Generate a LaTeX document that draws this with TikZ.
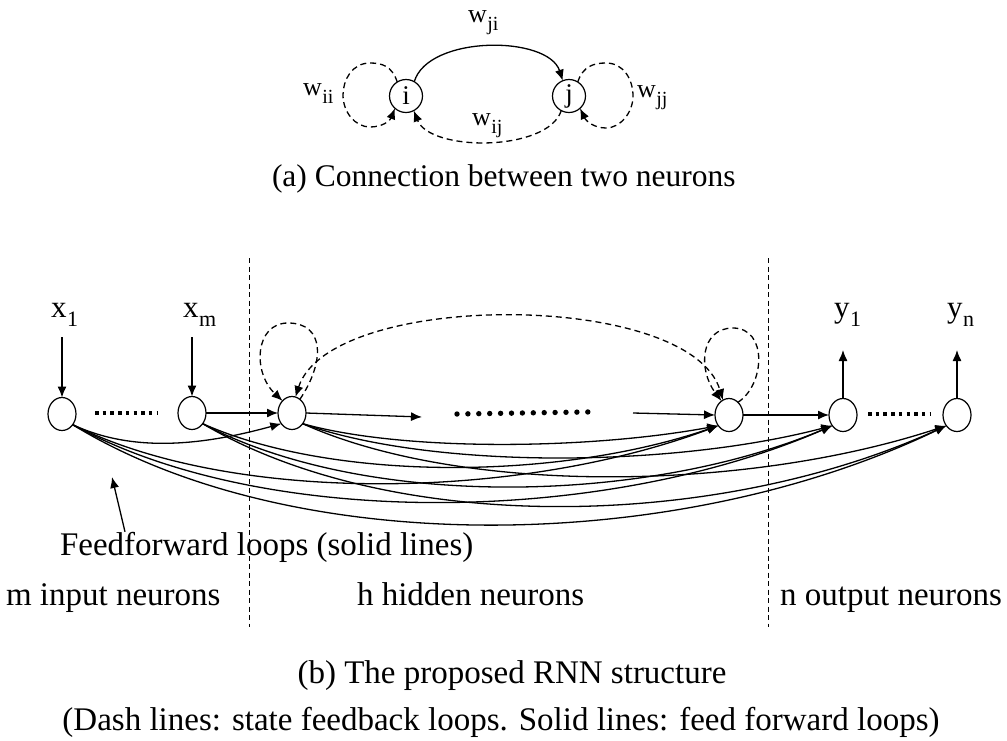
\documentclass[tikz,border=0pt]{standalone}
\usepackage{fontspec}
\setmainfont{Liberation Serif}
\usetikzlibrary{arrows.meta,shapes.geometric}

% label with a lowered subscript in plain text
\newcommand{\sublbl}[4]{#1\kern0.5pt\raisebox{-#3pt}{\fontsize{#4}{#4}\selectfont #2}}

\begin{document}
\begin{tikzpicture}[x=1pt,y=-1pt,
  every node/.style={inner sep=0pt, outer sep=0pt},
  unit/.style={draw, circle, line width=1.2pt, minimum size=33pt, font=\fontsize{27}{27}\selectfont},
  neuron/.style={draw, ellipse, line width=1.2pt, minimum width=28pt, minimum height=33pt},
  tip/.style={-{Latex[length=11pt,width=9pt]}},
  ff/.style={tip, line width=1.3pt},
  fb/.style={tip, line width=1.3pt, dash pattern=on 6pt off 4pt},
  sep/.style={line width=0.9pt, dash pattern=on 5pt off 3.5pt},
  wlabel/.style={anchor=base west, font=\fontsize{26}{26}\selectfont},
  iolabel/.style={anchor=base west, font=\fontsize{31}{31}\selectfont},
  caption/.style={font=\fontsize{31.5}{31.5}\selectfont},
  bigcaption/.style={font=\fontsize{33}{33}\selectfont},
  squaredots/.style={line width=3.5pt, dash pattern=on 3.5pt off 4.2pt}
]
\useasboundingbox (0,0) rectangle (1007,740);

% ---------- (a) two neurons ----------
\node[unit] (i) at (406,96) {i};
\node[unit] (j) at (569,96) {j};

\draw[ff] (i.60) .. controls (428,35) and (548,35) .. (j.112);
\draw[fb] (j.-118) .. controls (548,152) and (430,152) .. (i.-62);
\draw[fb] (i.122) .. controls (392,66) and (382,63) .. (370,63)
  .. controls (352,63) and (343,80) .. (343,95)
  .. controls (343,112) and (355,127) .. (370,127)
  .. controls (382,127) and (390,121) .. (i.-132);
\draw[fb] (j.58) .. controls (583,66) and (594,63) .. (606,63)
  .. controls (624,63) and (633,80) .. (633,96)
  .. controls (633,113) and (620,128) .. (606,128)
  .. controls (594,128) and (586,121) .. (j.-48);

\node[wlabel] (wji) at (468,22) {\sublbl{w}{ji}{8}{20}};
\node[wlabel] (wii) at (303,95) {\sublbl{w}{ii}{8}{20}};
\node[wlabel] (wjj) at (637,97) {\sublbl{w}{jj}{8}{20}};
\node[wlabel] (wij) at (472,125) {\sublbl{w}{ij}{8}{20}};

\node[caption, anchor=base west] (capa) at (272,186) {(a) Connection between two neurons};

% ---------- (b) network ----------
\draw[sep] (249,258) -- (249,627);
\draw[sep] (768,258) -- (768,627);

\node[neuron] (x1) at (62,414) {};
\node[neuron] (xm) at (192,413) {};
\node[neuron] (h1) at (292,413) {};
\node[neuron] (hL) at (729,415) {};
\node[neuron] (y1) at (843,415) {};
\node[neuron] (yn) at (957,415) {};

\node[iolabel] (lx1) at (51,317) {\sublbl{x}{1}{9}{22}};
\node[iolabel] (lxm) at (183,317) {\sublbl{x}{m}{9}{22}};
\node[iolabel] (ly1) at (834,317) {\sublbl{y}{1}{9}{22}};
\node[iolabel] (lyn) at (947,317) {\sublbl{y}{n}{9}{22}};

\coordinate (inx1) at (62,337);
\coordinate (inxm) at (192,337);
\coordinate (outy1) at (843,350);
\coordinate (outyn) at (957,350);
\draw[ff] (inx1) -- (x1.north);
\draw[ff] (inxm) -- (xm.north);
\draw[ff] (y1.north) -- (outy1);
\draw[ff] (yn.north) -- (outyn);

% elided neurons
\draw[squaredots] (95,413) -- (157,413);
\draw[squaredots] (868,414) -- (930,414);
\foreach \k in {0,...,12} \fill (457+\k*10.9, 414-\k*0.17) circle (2.7);

% forward chain
\coordinate (hmidA) at (422,417);
\coordinate (hmidB) at (633,413);
\draw[ff] (xm.east) -- (h1.west);
\draw[ff] (h1.east) -- (hmidA);
\draw[ff] (hmidB) -- (hL.west);
\draw[ff] (hL.east) -- (y1.west);

% state feedback loops
\draw[fb] (h1.60) .. controls (325,362) and (325,323) .. (288,323)
  .. controls (255,323) and (252,372) .. (h1.128);
\draw[fb] (hL.55) .. controls (765,385) and (768,328) .. (733,328)
  .. controls (700,328) and (698,370) .. (hL.118);
\draw[fb, {Latex[length=11pt,width=9pt]}-{Latex[length=11pt,width=9pt]}]
  (h1.78) .. controls (330,290) and (690,290) .. (hL.112);

% feedforward loops
\draw[ff] (x1.-45) .. controls +(60,28) and +(-80,22) .. (h1.-135);
\draw[ff] (x1.-45) .. controls +(160,80) and +(-200,75) .. (hL.-135);
\draw[ff] (x1.-45) .. controls +(190,105) and +(-230,100) .. (y1.-135);
\draw[ff] (x1.-45) .. controls +(220,135) and +(-270,130) .. (yn.-135);
\draw[ff] (xm.-45) .. controls +(130,58) and +(-160,55) .. (hL.-135);
\draw[ff] (xm.-45) .. controls +(160,85) and +(-190,80) .. (y1.-135);
\draw[ff] (xm.-45) .. controls +(190,112) and +(-230,105) .. (yn.-135);
\draw[ff] (h1.-45) .. controls +(100,28) and +(-130,24) .. (hL.-135);
\draw[ff] (h1.-45) .. controls +(130,46) and +(-160,42) .. (y1.-135);
\draw[ff] (h1.-45) .. controls +(160,72) and +(-200,66) .. (yn.-135);

\node[bigcaption, anchor=base west] (fflabel) at (60,555) {Feedforward loops (solid lines)};
\coordinate (fftip) at (112,477);
\draw[ff] ([xshift=65pt]fflabel.north west) -- (fftip);

\node[bigcaption, anchor=base west] (lin) at (6,605) {m input neurons};
\node[bigcaption, anchor=base west] (lhid) at (357,605) {h hidden neurons};
\node[bigcaption, anchor=base east] (lout) at (1002,605) {n output neurons};

\node[bigcaption, anchor=base] (capb) at (512,683) {(b) The proposed RNN structure};
\node[bigcaption, anchor=base] (capc) at (501,730) {(Dash lines: state feedback loops. Solid lines: feed forward loops)};
\end{tikzpicture}
\end{document}
